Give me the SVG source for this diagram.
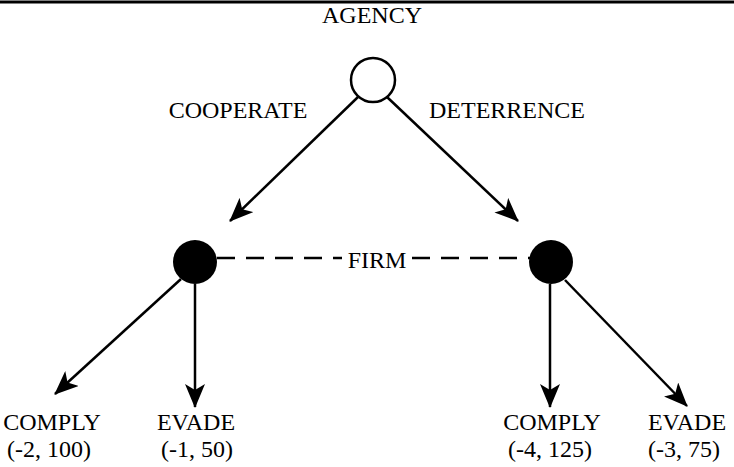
<svg xmlns="http://www.w3.org/2000/svg" width="734" height="467" viewBox="0 0 734 467">
<style>
text{font-family:"Liberation Serif","Times New Roman",serif;font-size:24px;fill:#000}
.e{stroke:#000;stroke-width:2.5;fill:none}
</style>
<defs>
<marker id="ah" markerWidth="24" markerHeight="20" refX="23" refY="10" orient="auto" markerUnits="userSpaceOnUse">
<path d="M0,0 L24,10 L0,20 L6,10 Z" fill="#000"/>
</marker>
</defs>
<rect width="734" height="467" fill="#fff"/>
<line x1="0" y1="2" x2="734" y2="2" stroke="#000" stroke-width="3"/>
<g id="connectors">
<line class="e" x1="358" y1="97" x2="230" y2="221" marker-end="url(#ah)"/>
<line class="e" x1="387" y1="97" x2="518" y2="221" marker-end="url(#ah)"/>
<line class="e" x1="217" y1="258" x2="342" y2="258" stroke-dasharray="18,11"/>
<line class="e" x1="412" y1="258" x2="530" y2="258" stroke-dasharray="18,11"/>
<line class="e" x1="181" y1="279" x2="55" y2="394" marker-end="url(#ah)"/>
<line class="e" x1="195" y1="284" x2="195" y2="407" marker-end="url(#ah)"/>
<line class="e" x1="550" y1="284" x2="550" y2="407" marker-end="url(#ah)"/>
<line class="e" x1="565" y1="280" x2="687" y2="406" marker-end="url(#ah)"/>
</g>
<g id="agency">
<circle cx="373" cy="80" r="22" fill="#fff" stroke="#000" stroke-width="2.5"/>
<text x="372" y="23" text-anchor="middle">AGENCY</text>
</g>
<text x="238" y="118" text-anchor="middle">COOPERATE</text>
<text x="507" y="118" text-anchor="middle">DETERRENCE</text>
<g id="firm-left"><circle cx="195" cy="262" r="22" fill="#000"/></g>
<g id="firm-right"><circle cx="551" cy="262" r="22" fill="#000"/></g>
<text x="377" y="268" text-anchor="middle">FIRM</text>
<g id="leaf1"><text x="52" y="430" text-anchor="middle">COMPLY</text><text x="49" y="457" text-anchor="middle">(-2, 100)</text></g>
<g id="leaf2"><text x="196" y="430" text-anchor="middle">EVADE</text><text x="197" y="457" text-anchor="middle">(-1, 50)</text></g>
<g id="leaf3"><text x="552" y="430" text-anchor="middle">COMPLY</text><text x="550" y="457" text-anchor="middle">(-4, 125)</text></g>
<g id="leaf4"><text x="687" y="430" text-anchor="middle">EVADE</text><text x="684" y="457" text-anchor="middle">(-3, 75)</text></g>
</svg>
